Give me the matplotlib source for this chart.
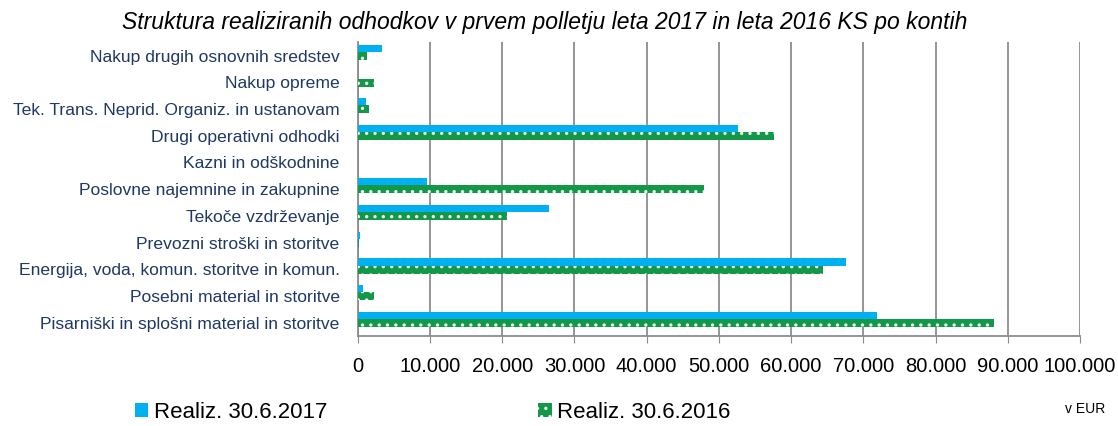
import matplotlib.pyplot as plt
from matplotlib.patches import Patch
from matplotlib.ticker import FuncFormatter

categories = [
    "Nakup drugih osnovnih sredstev",
    "Nakup opreme",
    "Tek. Trans. Neprid. Organiz. in ustanovam",
    "Drugi operativni odhodki",
    "Kazni in odškodnine",
    "Poslovne najemnine in zakupnine",
    "Tekoče vzdrževanje",
    "Prevozni stroški in storitve",
    "Energija, voda, komun. storitve in komun.",
    "Posebni material in storitve",
    "Pisarniški in splošni material in storitve",
]
real_2017 = [3400, 0, 1100, 52600, 0, 9600, 26500, 300, 67600, 700, 71900]
real_2016 = [1250, 2300, 1600, 57700, 0, 47900, 20600, 150, 64400, 2300, 88100]
xticks = list(range(0, 100001, 10000))

plt.rcParams['font.family'] = ['Liberation Sans', 'DejaVu Sans']
plt.rcParams['hatch.linewidth'] = 1.2

fig = plt.figure(figsize=(11.18, 4.26), dpi=100)
ax = fig.add_axes([0.320, 0.211, 0.646, 0.690])

pos = list(range(len(categories)))
ax.barh([p - 0.27 for p in pos], real_2017, height=0.28, color='#00b0f0',
        label='Realiz. 30.6.2017', zorder=3)
ax.barh([p + 0.01 for p in pos], real_2016, height=0.30, color='#13984a',
        edgecolor='#e8f5ec', linewidth=0, hatch='..', label='Realiz. 30.6.2016',
        zorder=3)

ax.set_ylim(len(categories) - 0.5, -0.5)
ax.set_xlim(0, 100000)
ax.set_yticks(pos)
ax.set_yticklabels(categories, color='#1f3864', fontsize=12.6)
ax.tick_params(axis='y', length=0, pad=13)
ax.set_xticks(xticks)
ax.xaxis.set_major_formatter(FuncFormatter(lambda v, p: f"{int(v):,}".replace(",", ".")))
ax.tick_params(axis='x', length=5, color='#8c8c8c', labelsize=14.5, pad=10)
ax.grid(axis='x', color='#8c8c8c', linewidth=1.3, zorder=0)
for s in ['top', 'right']:
    ax.spines[s].set_visible(False)
for s in ['left', 'bottom']:
    ax.spines[s].set_color('#8c8c8c')
    ax.spines[s].set_linewidth(1.3)

fig.text(0.4875, 0.948, "Struktura realiziranih odhodkov v prvem polletju leta 2017 in leta 2016 KS po kontih",
         ha='center', va='center', fontsize=16.5, style='italic')

handles = [Patch(facecolor='#00b0f0'),
           Patch(facecolor='#13984a', edgecolor='#e8f5ec', linewidth=0, hatch='..')]
fig.legend(handles, ['Realiz. 30.6.2017', 'Realiz. 30.6.2016'], loc='center',
           bbox_to_anchor=(0.387, 0.032), ncol=2, frameon=False, fontsize=16,
           handlelength=0.6, handleheight=0.6, handletextpad=0.25, columnspacing=9.5)

fig.text(0.989, 0.04, "v EUR", ha='right', va='center', fontsize=10)

fig.savefig("out.png", dpi=100)
